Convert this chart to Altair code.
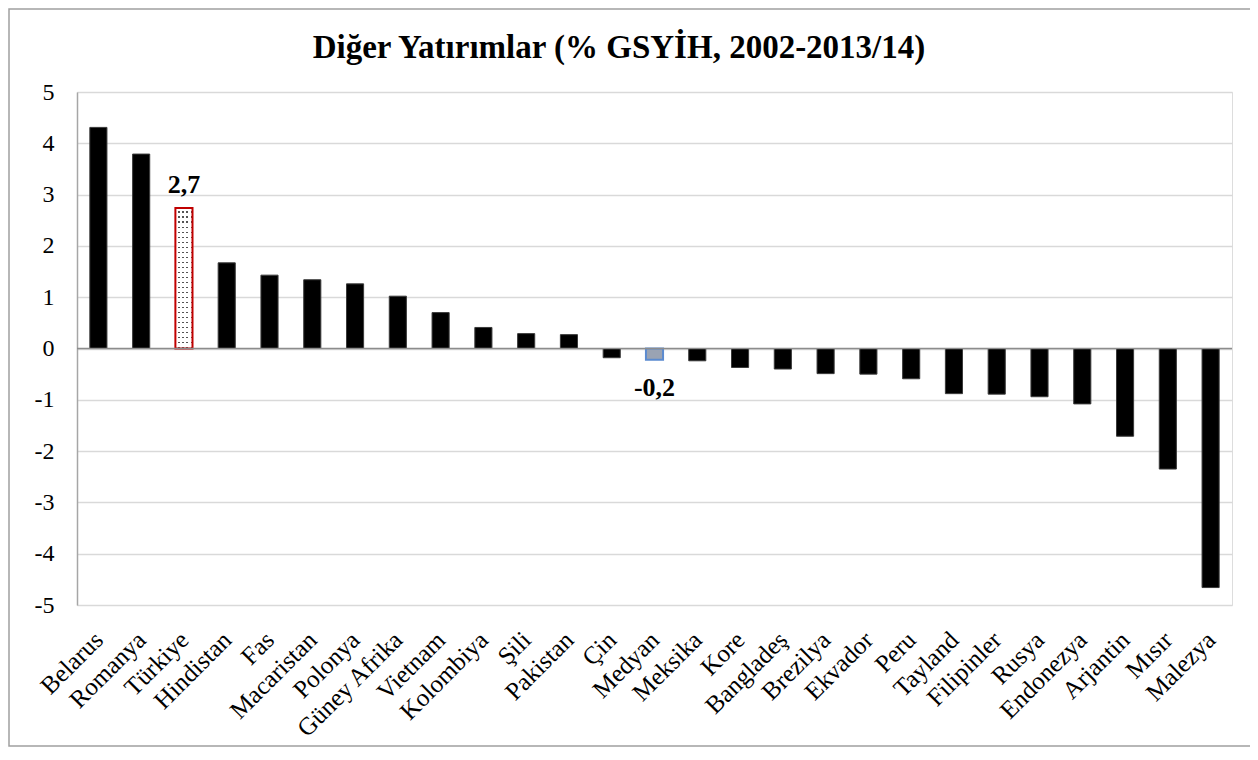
import altair as alt
import pandas as pd

countries = ["Belarus", "Romanya", "Türkiye", "Hindistan", "Fas", "Macaristan", "Polonya",
             "Güney Afrika", "Vietnam", "Kolombiya", "Şili", "Pakistan", "Çin", "Medyan",
             "Meksika", "Kore", "Bangladeş", "Brezilya", "Ekvador", "Peru", "Tayland",
             "Filipinler", "Rusya", "Endonezya", "Arjantin", "Mısır", "Malezya"]
values = [4.31, 3.79, 2.74, 1.67, 1.43, 1.34, 1.26, 1.02, 0.70, 0.41, 0.29, 0.27, -0.18, -0.22,
          -0.24, -0.37, -0.40, -0.49, -0.50, -0.59, -0.88, -0.89, -0.94, -1.08, -1.71, -2.35, -4.66]
highlight = {"Türkiye": "tr", "Medyan": "med"}
y_ticks = [-5, -4, -3, -2, -1, 0, 1, 2, 3, 4, 5]
title_text = "Diğer Yatırımlar (% GSYİH, 2002-2013/14)"

df = pd.DataFrame({"country": countries, "value": values})
df["kind"] = [highlight.get(c, "normal") for c in countries]
df["label"] = [f"{v:.1f}".replace(".", ",") for v in values]

FONT = "Liberation Serif"
W, H = 1155, 513

x_scale = alt.Scale(domain=countries, paddingInner=0.6, paddingOuter=0.3)
y_scale = alt.Scale(domain=[-5, 5], nice=False)

x_enc = alt.X("country:N", scale=x_scale, title=None,
              axis=alt.Axis(labelAngle=-45, labelAlign="right", labelBaseline="top",
                            labelPadding=22, labelOffset=-8, labelFont=FONT,
                            labelFontSize=25, labelColor="black", ticks=False,
                            domain=False, labelOverlap=False))
y_enc = alt.Y("value:Q", scale=y_scale, title=None,
              axis=alt.Axis(values=y_ticks, labelExpr="datum.value + ''", labelFont=FONT,
                            labelFontSize=24, labelColor="black", labelPadding=23,
                            ticks=False, domain=True, domainColor="#a6a6a6", domainWidth=1.5,
                            grid=True, gridColor="#d9d9d9", gridWidth=1.5))

base = alt.Chart(df)

# dotted texture: grey horizontal stripes, masked by white vertical stripes
row_stops = []
n_rows = 28
for i in range(n_rows):
    a, b, c = i / n_rows, (i + 0.7) / n_rows, (i + 1) / n_rows
    row_stops += [alt.GradientStop(offset=a, color="#ffffff"),
                  alt.GradientStop(offset=b, color="#ffffff"),
                  alt.GradientStop(offset=b, color="#555555"),
                  alt.GradientStop(offset=c, color="#555555")]
rows_fill = alt.LinearGradient(gradient="linear", stops=row_stops, x1=0, x2=0, y1=0, y2=1)

col_stops = []
n_cols = 4
for i in range(n_cols):
    a, b, c = i / n_cols, (i + 0.55) / n_cols, (i + 1) / n_cols
    col_stops += [alt.GradientStop(offset=a, color="rgba(255,255,255,1)"),
                  alt.GradientStop(offset=b, color="rgba(255,255,255,1)"),
                  alt.GradientStop(offset=b, color="rgba(255,255,255,0)"),
                  alt.GradientStop(offset=c, color="rgba(255,255,255,0)")]
cols_fill = alt.LinearGradient(gradient="linear", stops=col_stops, x1=0, x2=1, y1=0, y2=0)

bars = base.transform_filter("datum.kind == 'normal'").mark_bar(
    fill="black", stroke="#3a3a3a", strokeWidth=1
).encode(x=x_enc, y=y_enc)

bar_tr = base.transform_filter("datum.kind == 'tr'").mark_bar(
    fill=rows_fill, strokeWidth=0
).encode(x=alt.X("country:N", scale=x_scale), y=alt.Y("value:Q", scale=y_scale))

bar_tr2 = base.transform_filter("datum.kind == 'tr'").mark_bar(
    fill=cols_fill, stroke="#c00000", strokeWidth=2
).encode(x=alt.X("country:N", scale=x_scale), y=alt.Y("value:Q", scale=y_scale))

bar_med = base.transform_filter("datum.kind == 'med'").mark_bar(
    fill="#9aa3b3", stroke="#5b8bd0", strokeWidth=2
).encode(x=alt.X("country:N", scale=x_scale), y=alt.Y("value:Q", scale=y_scale))

zero = alt.Chart(pd.DataFrame({"z": [0]})).mark_rule(color="#8c8c8c", strokeWidth=1.5).encode(
    y=alt.Y("z:Q", scale=y_scale)
)

lab_tr = base.transform_filter("datum.kind == 'tr'").mark_text(
    font=FONT, fontSize=26, fontWeight="bold", baseline="bottom", dy=-10, color="black"
).encode(x=alt.X("country:N", scale=x_scale), y=alt.Y("value:Q", scale=y_scale),
         text="label:N")

lab_med = base.transform_filter("datum.kind == 'med'").mark_text(
    font=FONT, fontSize=26, fontWeight="bold", baseline="top", dy=15, color="black"
).encode(x=alt.X("country:N", scale=x_scale), y=alt.Y("value:Q", scale=y_scale),
         text="label:N")

title = alt.Chart(pd.DataFrame({"t": [title_text]})).mark_text(
    font=FONT, fontSize=33, fontWeight="bold", color="black", align="center",
    baseline="alphabetic"
).encode(text="t:N", x=alt.value(542), y=alt.value(-34))

frame = alt.Chart(pd.DataFrame({"f": [0]})).mark_rect(
    filled=False, stroke="#a0a0a0", strokeWidth=1.5
).encode(x=alt.value(-68), x2=alt.value(1175), y=alt.value(-83), y2=alt.value(654))

chart = alt.layer(bars, bar_tr, bar_tr2, bar_med, zero, lab_tr, lab_med, title, frame).properties(
    width=W, height=H,
    autosize=alt.AutoSizeParams(type="none"),
    padding={"left": 69, "top": 84, "right": 18, "bottom": 150},
).configure_view(stroke=None).configure(background="white")

chart.save("out.html", embed_options={"renderer": "svg", "actions": False})
